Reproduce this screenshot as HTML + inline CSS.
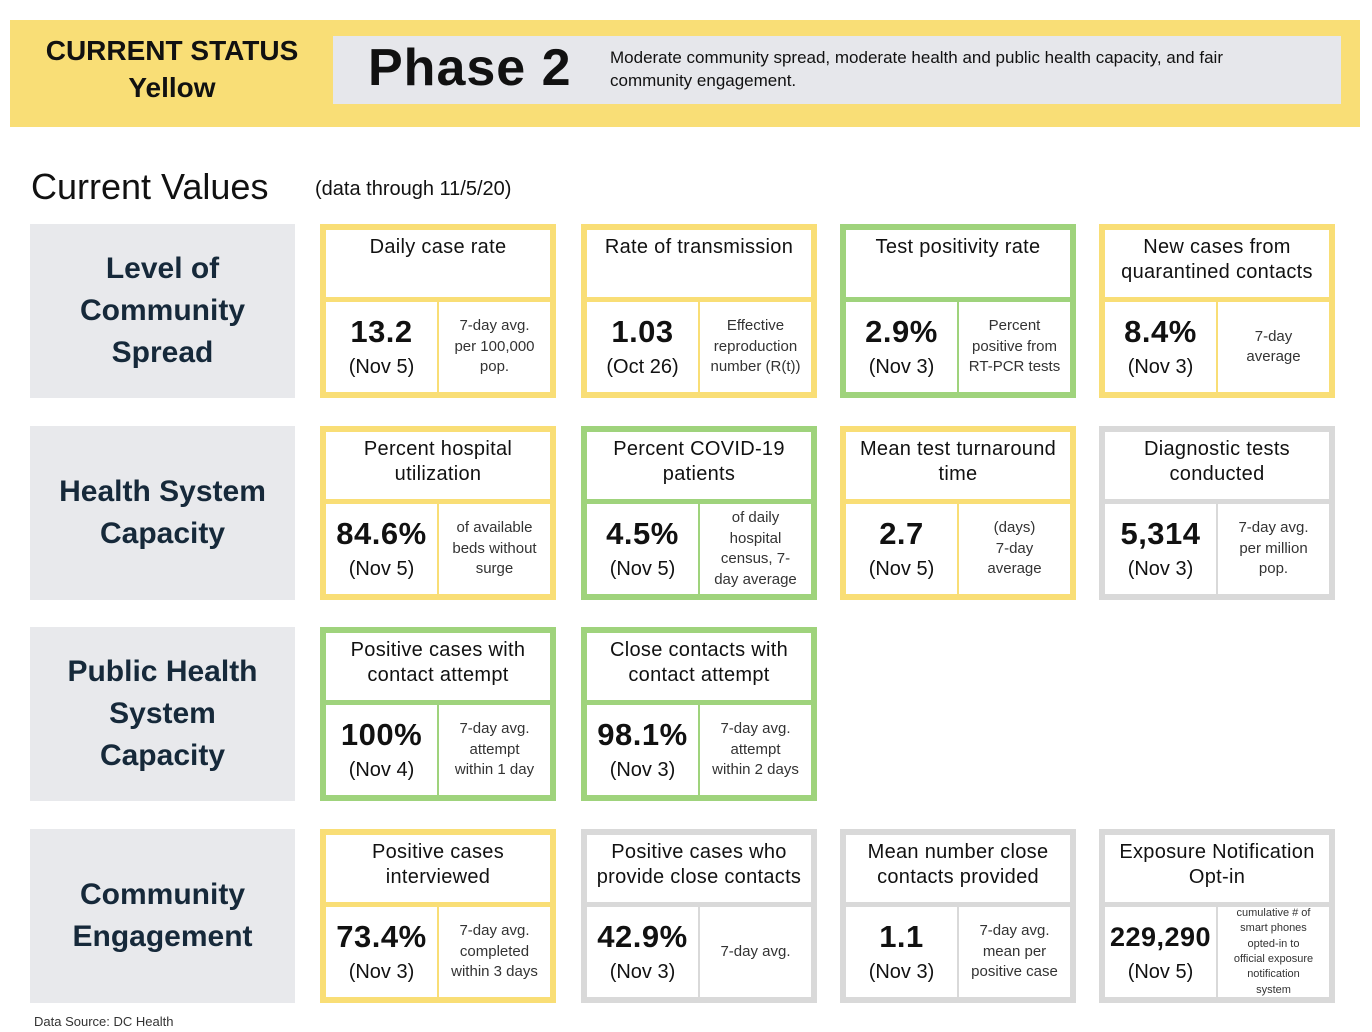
<!DOCTYPE html>
<html><head><meta charset="utf-8">
<style>
*{box-sizing:border-box;margin:0;padding:0}
body{width:1372px;height:1032px;background:#fff;position:relative;font-family:"Liberation Sans",sans-serif;color:#111;overflow:hidden}
.abs{position:absolute}
.band{left:10px;top:20px;width:1350px;height:107px;background:#f9de76}
.status{left:22px;top:32px;width:300px;text-align:center;font-weight:bold;font-size:28px;line-height:37px}
.gbox{left:333px;top:36px;width:1008px;height:68px;background:#e6e7eb}
.phase{left:368px;top:36px;font-size:52px;font-weight:bold;line-height:64px;letter-spacing:1px}
.pdesc{left:610px;top:46px;font-size:17px;line-height:23px;width:690px}
.cv{left:31px;top:165px;font-size:36px;line-height:44px}
.dt{left:315px;top:178px;font-size:20px}
.lab{left:30px;width:265px;height:174px;background:#e8e9ec;color:#16293a;font-weight:bold;font-size:30px;line-height:42px;display:flex;align-items:center;justify-content:center;text-align:center}
.card{width:236px;height:174px;border:6px solid #f9de76}
.card .hd{position:absolute;left:0;top:0;width:224px;height:67px;text-align:center;font-size:20px;line-height:25px;padding-top:5px;letter-spacing:0.3px}
.card .hl{position:absolute;left:0;top:67px;width:224px;height:5px}
.card .vl{position:absolute;left:111px;top:72px;width:2px;height:90px}
.card .val{position:absolute;left:0;top:72px;width:111px;height:90px;text-align:center;padding-top:12px}
.card .val b{display:block;font-size:31px;line-height:36px;letter-spacing:0.5px}
.card .val span{display:block;font-size:20px;line-height:34px}
.card .ds{position:absolute;left:113px;top:72px;width:111px;height:90px;display:flex;align-items:center;justify-content:center;text-align:center;font-size:15px;line-height:20.5px;color:#333}
.src{left:34px;top:1014px;font-size:13px;color:#333}
</style></head><body>
<div class="abs band"></div>
<div class="abs status">CURRENT STATUS<br>Yellow</div>
<div class="abs gbox"></div>
<div class="abs phase">Phase 2</div>
<div class="abs pdesc">Moderate community spread, moderate health and public health capacity, and fair community engagement.</div>
<div class="abs cv">Current Values</div>
<div class="abs dt">(data through 11/5/20)</div>
<div class="abs lab" style="top:224px">Level of<br>Community<br>Spread</div>
<div class="abs lab" style="top:426px">Health System<br>Capacity</div>
<div class="abs lab" style="top:627px">Public Health<br>System<br>Capacity</div>
<div class="abs lab" style="top:829px">Community<br>Engagement</div>
<div class="abs src">Data Source: DC Health</div>
<div id="cards"></div>
<script>
const titles=["Daily case rate","Rate of transmission","Test positivity rate","New cases from<br>quarantined contacts","Percent hospital<br>utilization","Percent COVID-19<br>patients","Mean test turnaround<br>time","Diagnostic tests<br>conducted","Positive cases with<br>contact attempt","Close contacts with<br>contact attempt","Positive cases<br>interviewed","Positive cases who<br>provide close contacts","Mean number close<br>contacts provided","Exposure Notification<br>Opt-in"];
const values=["13.2","1.03","2.9%","8.4%","84.6%","4.5%","2.7","5,314","100%","98.1%","73.4%","42.9%","1.1","229,290"];
const dates=["(Nov 5)","(Oct 26)","(Nov 3)","(Nov 3)","(Nov 5)","(Nov 5)","(Nov 5)","(Nov 3)","(Nov 4)","(Nov 3)","(Nov 3)","(Nov 3)","(Nov 3)","(Nov 5)"];
const descs=["7-day avg.<br>per 100,000<br>pop.","Effective<br>reproduction<br>number (R(t))","Percent<br>positive from<br>RT-PCR tests","7-day<br>average","of available<br>beds without<br>surge","of daily<br>hospital<br>census, 7-<br>day average","(days)<br>7-day<br>average","7-day avg.<br>per million<br>pop.","7-day avg.<br>attempt<br>within 1 day","7-day avg.<br>attempt<br>within 2 days","7-day avg.<br>completed<br>within 3 days","7-day avg.","7-day avg.<br>mean per<br>positive case","cumulative # of<br>smart phones<br>opted-in to<br>official exposure<br>notification<br>system"];
const statuses=["y","y","g","y","y","g","y","n","g","g","y","n","n","n"];
const slots=[[0,0],[0,1],[0,2],[0,3],[1,0],[1,1],[1,2],[1,3],[2,0],[2,1],[3,0],[3,1],[3,2],[3,3]];
const colX=[320,581,840,1099],rowY=[224,426,627,829];
const col={y:"#f9de76",g:"#9fd37c",n:"#d9d9d9"};
const root=document.getElementById('cards');
titles.forEach((t,i)=>{
 const c=document.createElement('div');
 c.className='abs card';
 
 
 const cl=col[statuses[i]];
 c.style.left=colX[slots[i][1]]+'px';c.style.top=rowY[slots[i][0]]+'px';c.style.borderColor=cl;
 const small=descs[i].split('<br>').length>4;
 const big=values[i].length>6;
 c.innerHTML='<div class="hd">'+t+'</div><div class="hl" style="background:'+cl+'"></div><div class="vl" style="background:'+cl+'"></div>'+
 '<div class="val"><b'+(big?' style="font-size:27px"':'')+'>'+values[i]+'</b><span>'+dates[i]+'</span></div>'+
 '<div class="ds"'+(small?' style="font-size:11px;line-height:15.3px"':'')+'>'+descs[i]+'</div>';
 root.appendChild(c);
});
</script>
</body></html>
